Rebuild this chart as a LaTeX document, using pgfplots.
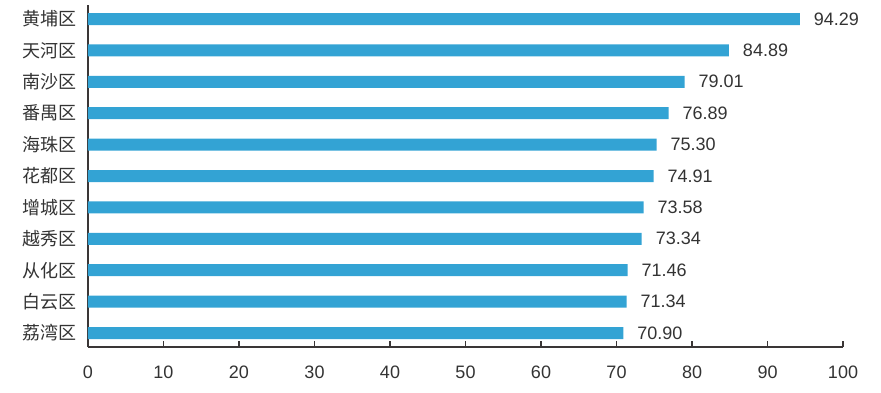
\documentclass[border=0pt]{standalone}
\usepackage{pgfplots}
\pgfplotsset{compat=1.18}
\usepackage{fontspec}
\setmainfont{Liberation Sans}
\newfontfamily\cjk{Noto Sans CJK SC}
\definecolor{barc}{HTML}{33A3D4}
\definecolor{axc}{HTML}{3A3636}
\definecolor{txt}{HTML}{333333}
\begin{document}
\begin{tikzpicture}
\begin{axis}[
  at={(0,0)}, anchor=south west,
  scale only axis, width=377.5pt, height=171pt,
  xmin=0, xmax=100, ymin=-0.446, ymax=10.446,
  xtick={0,10,...,100},
  ytick={0,...,10},
  yticklabels={荔湾区,白云区,从化区,越秀区,增城区,花都区,海珠区,番禺区,南沙区,天河区,黄埔区},
  axis x line*=bottom, axis y line*=left,
  axis line style={draw=axc, line width=0.8pt, -},
  x axis line style={-}, y axis line style={-},
  xtick align=inside, major tick length=3pt,
  xtick style={draw=axc, line width=0.7pt},
  ytick style={draw=none},
  /pgf/number format/assume math mode=true,
  xticklabel style={font=\fontsize{9}{10}\selectfont, text=txt, yshift=-6pt},
  yticklabel style={font=\cjk\fontsize{9}{10}\selectfont, text=txt, xshift=1pt},
  xbar, bar width=6pt,
  nodes near coords,
  nodes near coords style={font=\fontsize{9}{10}\selectfont, text=txt, anchor=west, xshift=3.5pt,
     /pgf/number format/.cd, fixed, fixed zerofill, precision=2, assume math mode=true},
  point meta=explicit,
]
\addplot[fill=barc, draw=none] coordinates {
(70.90,0) [70.90]
(71.34,1) [71.34]
(71.46,2) [71.46]
(73.34,3) [73.34]
(73.58,4) [73.58]
(74.91,5) [74.91]
(75.30,6) [75.30]
(76.89,7) [76.89]
(79.01,8) [79.01]
(84.89,9) [84.89]
(94.29,10) [94.29]
};
\end{axis}
\path[use as bounding box] (-44pt,-22.5pt) rectangle (396.5pt,173.5pt);
\end{tikzpicture}
\end{document}
